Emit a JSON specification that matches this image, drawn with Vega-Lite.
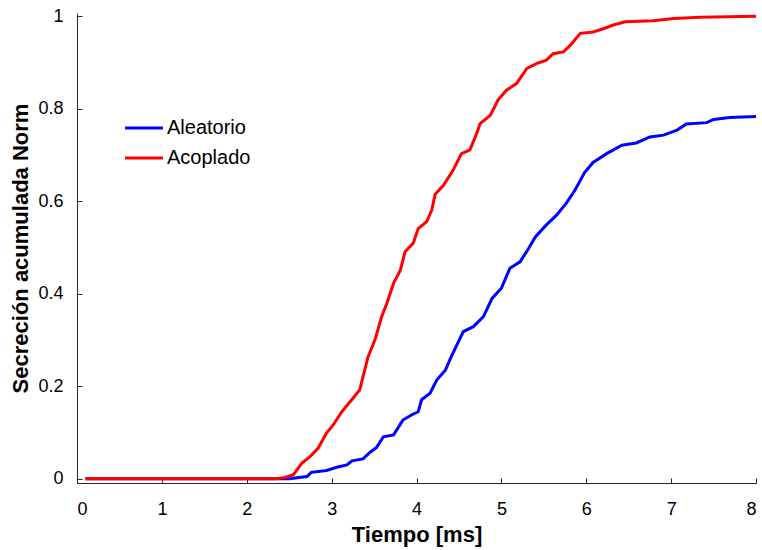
{
  "$schema": "https://vega.github.io/schema/vega-lite/v6.json",
  "width": 679,
  "height": 470,
  "padding": {"left": 77, "top": 13, "right": 6, "bottom": 67},
  "autosize": {"type": "none"},
  "background": "white",
  "config": {
    "view": {"stroke": null},
    "font": "Liberation Sans",
    "axis": {
      "grid": false,
      "domainColor": "#262626",
      "tickColor": "#262626",
      "domainWidth": 1,
      "tickSize": -5,
      "labelFontSize": 18,
      "labelColor": "#000000",
      "titleFontSize": 22,
      "titleFontWeight": "bold",
      "titleColor": "#000000"
    }
  },
  "data": {
    "values": [
      {"t": 0.1, "v": 0, "s": "Aleatorio"},
      {"t": 2.5, "v": 0, "s": "Aleatorio"},
      {"t": 2.71, "v": 0.005, "s": "Aleatorio"},
      {"t": 2.76, "v": 0.014, "s": "Aleatorio"},
      {"t": 2.94, "v": 0.018, "s": "Aleatorio"},
      {"t": 3.06, "v": 0.025, "s": "Aleatorio"},
      {"t": 3.18, "v": 0.03, "s": "Aleatorio"},
      {"t": 3.24, "v": 0.039, "s": "Aleatorio"},
      {"t": 3.37, "v": 0.043, "s": "Aleatorio"},
      {"t": 3.45, "v": 0.057, "s": "Aleatorio"},
      {"t": 3.53, "v": 0.068, "s": "Aleatorio"},
      {"t": 3.61, "v": 0.091, "s": "Aleatorio"},
      {"t": 3.73, "v": 0.095, "s": "Aleatorio"},
      {"t": 3.84, "v": 0.127, "s": "Aleatorio"},
      {"t": 3.94, "v": 0.138, "s": "Aleatorio"},
      {"t": 4.02, "v": 0.145, "s": "Aleatorio"},
      {"t": 4.06, "v": 0.171, "s": "Aleatorio"},
      {"t": 4.16, "v": 0.185, "s": "Aleatorio"},
      {"t": 4.24, "v": 0.214, "s": "Aleatorio"},
      {"t": 4.34, "v": 0.235, "s": "Aleatorio"},
      {"t": 4.41, "v": 0.264, "s": "Aleatorio"},
      {"t": 4.49, "v": 0.295, "s": "Aleatorio"},
      {"t": 4.55, "v": 0.318, "s": "Aleatorio"},
      {"t": 4.67, "v": 0.329, "s": "Aleatorio"},
      {"t": 4.79, "v": 0.351, "s": "Aleatorio"},
      {"t": 4.89, "v": 0.39, "s": "Aleatorio"},
      {"t": 5.0, "v": 0.412, "s": "Aleatorio"},
      {"t": 5.1, "v": 0.455, "s": "Aleatorio"},
      {"t": 5.22, "v": 0.469, "s": "Aleatorio"},
      {"t": 5.32, "v": 0.498, "s": "Aleatorio"},
      {"t": 5.4, "v": 0.523, "s": "Aleatorio"},
      {"t": 5.53, "v": 0.549, "s": "Aleatorio"},
      {"t": 5.65, "v": 0.57, "s": "Aleatorio"},
      {"t": 5.77, "v": 0.597, "s": "Aleatorio"},
      {"t": 5.87, "v": 0.625, "s": "Aleatorio"},
      {"t": 5.98, "v": 0.662, "s": "Aleatorio"},
      {"t": 6.08, "v": 0.684, "s": "Aleatorio"},
      {"t": 6.24, "v": 0.703, "s": "Aleatorio"},
      {"t": 6.42, "v": 0.721, "s": "Aleatorio"},
      {"t": 6.59, "v": 0.726, "s": "Aleatorio"},
      {"t": 6.75, "v": 0.739, "s": "Aleatorio"},
      {"t": 6.91, "v": 0.743, "s": "Aleatorio"},
      {"t": 7.07, "v": 0.754, "s": "Aleatorio"},
      {"t": 7.18, "v": 0.767, "s": "Aleatorio"},
      {"t": 7.42, "v": 0.77, "s": "Aleatorio"},
      {"t": 7.5, "v": 0.777, "s": "Aleatorio"},
      {"t": 7.69, "v": 0.781, "s": "Aleatorio"},
      {"t": 8.0, "v": 0.783, "s": "Aleatorio"},
      {"t": 0.1, "v": 0, "s": "Acoplado"},
      {"t": 2.35, "v": 0, "s": "Acoplado"},
      {"t": 2.45, "v": 0.003, "s": "Acoplado"},
      {"t": 2.55, "v": 0.009, "s": "Acoplado"},
      {"t": 2.65, "v": 0.034, "s": "Acoplado"},
      {"t": 2.745, "v": 0.048, "s": "Acoplado"},
      {"t": 2.84, "v": 0.066, "s": "Acoplado"},
      {"t": 2.94, "v": 0.099, "s": "Acoplado"},
      {"t": 3.02, "v": 0.117, "s": "Acoplado"},
      {"t": 3.12, "v": 0.145, "s": "Acoplado"},
      {"t": 3.22, "v": 0.167, "s": "Acoplado"},
      {"t": 3.33, "v": 0.192, "s": "Acoplado"},
      {"t": 3.37, "v": 0.221, "s": "Acoplado"},
      {"t": 3.43, "v": 0.264, "s": "Acoplado"},
      {"t": 3.51, "v": 0.3, "s": "Acoplado"},
      {"t": 3.59, "v": 0.351, "s": "Acoplado"},
      {"t": 3.65, "v": 0.379, "s": "Acoplado"},
      {"t": 3.73, "v": 0.423, "s": "Acoplado"},
      {"t": 3.81, "v": 0.451, "s": "Acoplado"},
      {"t": 3.865, "v": 0.491, "s": "Acoplado"},
      {"t": 3.96, "v": 0.509, "s": "Acoplado"},
      {"t": 4.02, "v": 0.541, "s": "Acoplado"},
      {"t": 4.12, "v": 0.556, "s": "Acoplado"},
      {"t": 4.18, "v": 0.581, "s": "Acoplado"},
      {"t": 4.22, "v": 0.615, "s": "Acoplado"},
      {"t": 4.32, "v": 0.635, "s": "Acoplado"},
      {"t": 4.43, "v": 0.667, "s": "Acoplado"},
      {"t": 4.53, "v": 0.703, "s": "Acoplado"},
      {"t": 4.63, "v": 0.711, "s": "Acoplado"},
      {"t": 4.71, "v": 0.747, "s": "Acoplado"},
      {"t": 4.75, "v": 0.768, "s": "Acoplado"},
      {"t": 4.87, "v": 0.786, "s": "Acoplado"},
      {"t": 4.96, "v": 0.819, "s": "Acoplado"},
      {"t": 5.06, "v": 0.84, "s": "Acoplado"},
      {"t": 5.18, "v": 0.855, "s": "Acoplado"},
      {"t": 5.3, "v": 0.887, "s": "Acoplado"},
      {"t": 5.42, "v": 0.898, "s": "Acoplado"},
      {"t": 5.53, "v": 0.905, "s": "Acoplado"},
      {"t": 5.61, "v": 0.919, "s": "Acoplado"},
      {"t": 5.73, "v": 0.923, "s": "Acoplado"},
      {"t": 5.81, "v": 0.937, "s": "Acoplado"},
      {"t": 5.93, "v": 0.963, "s": "Acoplado"},
      {"t": 6.08, "v": 0.966, "s": "Acoplado"},
      {"t": 6.2, "v": 0.973, "s": "Acoplado"},
      {"t": 6.32, "v": 0.981, "s": "Acoplado"},
      {"t": 6.46, "v": 0.988, "s": "Acoplado"},
      {"t": 6.79, "v": 0.99, "s": "Acoplado"},
      {"t": 7.03, "v": 0.995, "s": "Acoplado"},
      {"t": 7.34, "v": 0.998, "s": "Acoplado"},
      {"t": 8.0, "v": 1.0, "s": "Acoplado"}
    ]
  },
  "mark": {"type": "line", "strokeWidth": 3, "interpolate": "linear"},
  "encoding": {
    "x": {
      "field": "t",
      "type": "quantitative",
      "title": "Tiempo [ms]",
      "scale": {"domain": [0, 8], "nice": false, "zero": false},
      "axis": {"values": [0, 1, 2, 3, 4, 5, 6, 7, 8], "labelPadding": 22, "titlePadding": 6}
    },
    "y": {
      "field": "v",
      "type": "quantitative",
      "title": "Secreción acumulada Norm",
      "scale": {"domain": [-0.009, 1.007], "nice": false, "zero": false},
      "axis": {"values": [0, 0.2, 0.4, 0.6, 0.8, 1], "labelPadding": 19, "titlePadding": 5, "labelExpr": "datum.value == 0 ? '0' : datum.value == 1 ? '1' : format(datum.value, '.1f')"}
    },
    "color": {
      "field": "s",
      "type": "nominal",
      "sort": ["Aleatorio", "Acoplado"],
      "scale": {"domain": ["Aleatorio", "Acoplado"], "range": ["#0000FF", "#FF0000"]},
      "legend": {
        "title": null,
        "orient": "none",
        "legendX": 56,
        "legendY": 104,
        "symbolType": "M-2,0H2",
        "symbolSize": 361,
        "symbolStrokeWidth": 3,
        "labelFontSize": 20,
        "labelColor": "#000000",
        "labelOffset": 12,
        "rowPadding": 9
      }
    }
  }
}
